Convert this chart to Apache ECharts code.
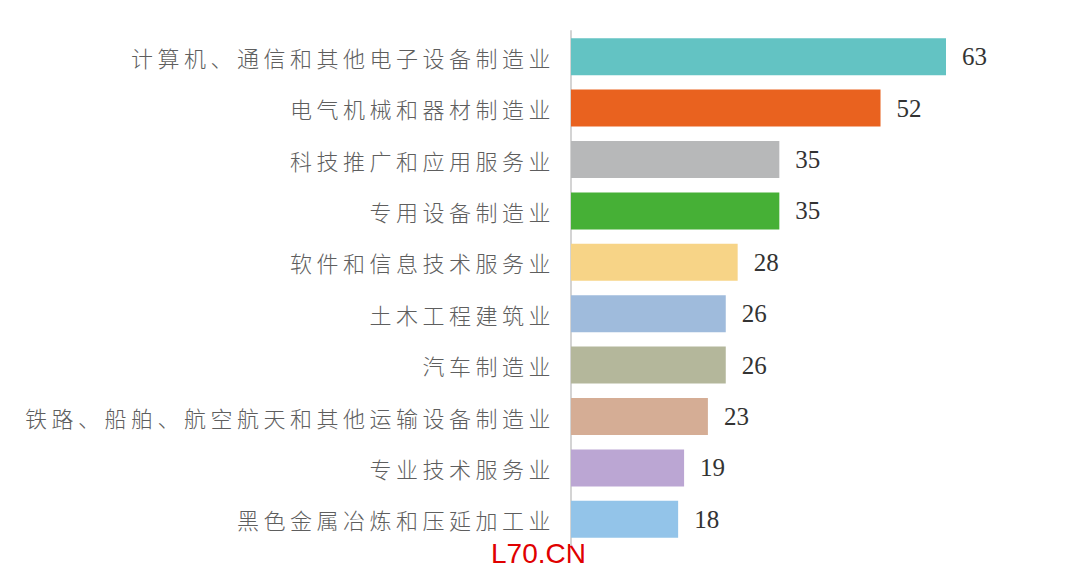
<!DOCTYPE html>
<html><head><meta charset="utf-8">
<script src="https://cdn.jsdelivr.net/npm/echarts@6/dist/echarts.min.js"></script>
<style>html,body{margin:0;padding:0;background:#fff}#c{width:1080px;height:574px}
text[style*="CJK"]{letter-spacing:4.5px}</style>
</head><body><div id="c"></div>
<script>
const categories = ["计算机、通信和其他电子设备制造业","电气机械和器材制造业","科技推广和应用服务业","专用设备制造业","软件和信息技术服务业","土木工程建筑业","汽车制造业","铁路、船舶、航空航天和其他运输设备制造业","专业技术服务业","黑色金属冶炼和压延加工业"];
const values = [63,52,35,35,28,26,26,23,19,18];
const colors = ["#63c3c3","#e9621f","#b7b8b9","#46b036","#f7d487","#9fbbdc","#b4b79b","#d5ad95","#bba6d3","#93c4e9"];
const chart = echarts.init(document.getElementById('c'), null, {renderer:'svg'});
chart.setOption({
  animation:false,
  grid:{left:571,right:134,top:31,bottom:29},
  xAxis:{type:'value',min:0,max:63,show:false},
  yAxis:{type:'category',inverse:true,data:categories,
    axisLine:{show:true,lineStyle:{color:'#d4d4d4',width:2}},
    axisTick:{show:false},
    axisLabel:{margin:16,fontSize:22,color:'#5e5e5e',fontFamily:'"Noto Sans CJK SC"',fontWeight:300}},
  series:[{type:'bar',barWidth:37,
    data:values.map((v,i)=>({value:v,itemStyle:{color:colors[i]}})),
    label:{show:true,position:'right',distance:16,fontSize:25,color:'#333',fontFamily:'"Liberation Serif"'}}],
  graphic:[{type:'text',left:491,top:539,style:{text:'L70.CN',fontSize:28,fill:'#e00000',fontFamily:'"Liberation Sans"'}}]
});
</script></body></html>
